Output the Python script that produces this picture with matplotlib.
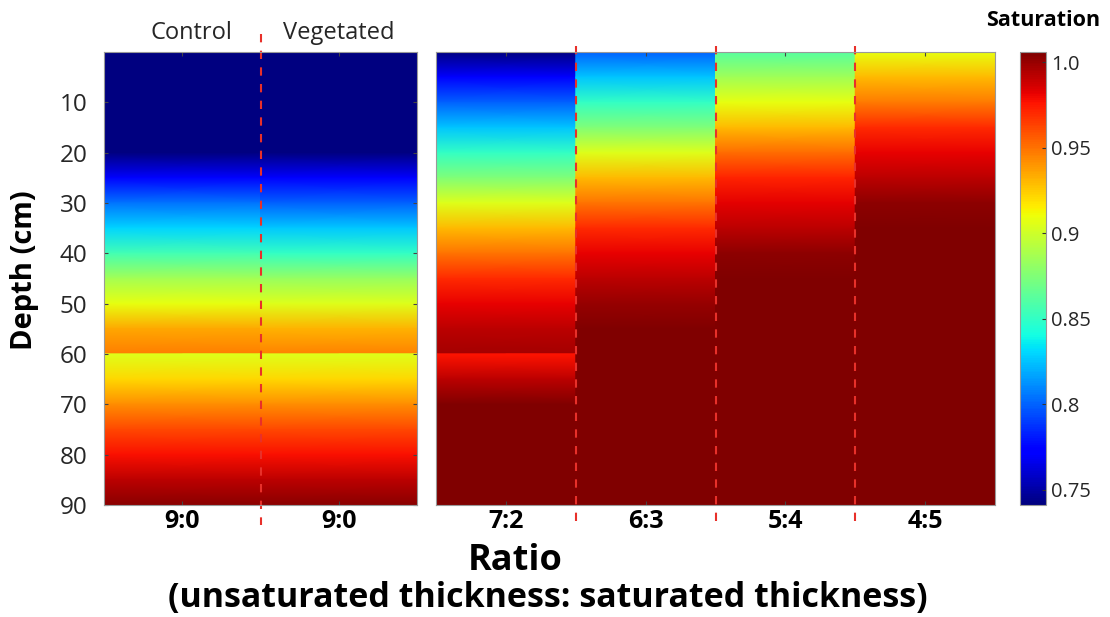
import numpy as np
import matplotlib
matplotlib.use('Agg')
import matplotlib.pyplot as plt

plt.rcParams['font.family'] = ['Open Sans', 'DejaVu Sans']

# depth nodes (cm); 59.9 / 60 pair marks the jump at the layer boundary
depth = [0, 5, 10, 15, 20, 25, 30, 35, 40, 45, 50, 55, 59.9, 60, 65, 70, 75, 80, 85, 90]

control   = [0.740, 0.740, 0.740, 0.740, 0.742, 0.775, 0.805, 0.830, 0.855, 0.886, 0.908, 0.935, 0.946,
             0.905, 0.922, 0.942, 0.962, 0.978, 0.992, 1.003]
vegetated = [0.740, 0.740, 0.740, 0.740, 0.740, 0.770, 0.800, 0.826, 0.850, 0.882, 0.905, 0.932, 0.945,
             0.905, 0.922, 0.942, 0.962, 0.978, 0.992, 1.003]
r72 = [0.742, 0.770, 0.800, 0.825, 0.850, 0.875, 0.905, 0.930, 0.950, 0.970, 0.982, 0.992, 0.997,
       0.977, 0.992, 1.005, 1.005, 1.005, 1.005, 1.005]
r63 = [0.800, 0.825, 0.850, 0.875, 0.905, 0.930, 0.950, 0.970, 0.982, 0.992, 1.000, 1.005, 1.005,
       1.005, 1.005, 1.005, 1.005, 1.005, 1.005, 1.005]
r54 = [0.862, 0.885, 0.908, 0.930, 0.952, 0.972, 0.983, 0.992, 1.002, 1.005, 1.005, 1.005, 1.005,
       1.005, 1.005, 1.005, 1.005, 1.005, 1.005, 1.005]
r45 = [0.908, 0.930, 0.948, 0.970, 0.982, 0.992, 1.002, 1.005, 1.005, 1.005, 1.005, 1.005, 1.005,
       1.005, 1.005, 1.005, 1.005, 1.005, 1.005, 1.005]

left_cols = [control, vegetated]
left_labels = ['9:0', '9:0']
right_cols = [r72, r63, r54, r45]
right_labels = ['7:2', '6:3', '5:4', '4:5']
depth_ticks = [10, 20, 30, 40, 50, 60, 70, 80, 90]
cbar_ticks = [0.75, 0.8, 0.85, 0.9, 0.95, 1.0]
cbar_labels = ['0.75', '0.8', '0.85', '0.9', '0.95', '1.0']

vmin, vmax = 0.741, 1.006
cmap = 'jet'
txt = '#262626'

fig = plt.figure(figsize=(11.1, 6.17), dpi=100)
axL = fig.add_axes([104/1110, 112/617, 313/1110, 453/617])
axR = fig.add_axes([436/1110, 112/617, 559/1110, 453/617])
cax = fig.add_axes([1020/1110, 112/617, 26/1110, 453/617])


def draw_cols(ax, cols):
    d = np.array(depth)
    for i, c in enumerate(cols):
        X = np.column_stack([np.full(len(d), i), np.full(len(d), i + 1)])
        Y = np.column_stack([d, d])
        C = np.column_stack([c, c])
        m = ax.pcolormesh(X, Y, C, shading='gouraud', cmap=cmap, vmin=vmin, vmax=vmax)
    ax.set_xlim(0, len(cols))
    ax.set_ylim(90, 0)
    return m


draw_cols(axL, left_cols)
m = draw_cols(axR, right_cols)

for ax, labels in [(axL, left_labels), (axR, right_labels)]:
    ax.set_xticks(np.arange(len(labels)) + 0.5)
    ax.set_xticklabels(labels, fontsize=18, fontweight='bold', color='black')
    ax.tick_params(axis='x', direction='in', length=3, color='#444444', top=True, pad=3)
    for s in ax.spines.values():
        s.set_color('#999999')
        s.set_linewidth(0.8)

axL.set_yticks(depth_ticks)
axL.set_yticklabels([str(t) for t in depth_ticks], fontsize=17.5, color=txt)
axL.tick_params(axis='y', direction='in', length=3, color='#444444', right=True, pad=12)
axR.set_yticks([])

# dashed separators
axL.plot([1, 1], [-3.5, 94], ls=(0, (4, 4)), color='#e8302a', lw=1.5, clip_on=False)
for x in [1, 2, 3]:
    axR.plot([x, x], [-1.2, 94], ls=(0, (4, 4)), color='#e8302a', lw=1.5, clip_on=False)

axL.text(0.56, -3.7, 'Control', ha='center', va='center', fontsize=17, color=txt)
axL.text(1.5, -3.7, 'Vegetated', ha='center', va='center', fontsize=17, color=txt)

fig.text(25/1110, 1 - 270/617, 'Depth (cm)', rotation=90, ha='center', va='center',
         fontsize=21, fontweight='bold')

cb = fig.colorbar(m, cax=cax)
cb.set_ticks(cbar_ticks)
cb.set_ticklabels(cbar_labels)
cb.ax.tick_params(labelsize=14.5, labelcolor=txt, direction='in', length=3, color='#333333')
cb.outline.set_edgecolor('#999999')
cb.outline.set_linewidth(0.8)

fig.text(1043/1110, 1 - 20/617, 'Saturation', ha='center', va='center', fontsize=15.5, fontweight='bold')
fig.text(515/1110, 1 - 561/617, 'Ratio', ha='center', va='center', fontsize=26, fontweight='bold')
fig.text(548/1110, 1 - 598/617, '(unsaturated thickness: saturated thickness)', ha='center', va='center',
         fontsize=24.5, fontweight='bold')

fig.savefig('out.png', dpi=100)
